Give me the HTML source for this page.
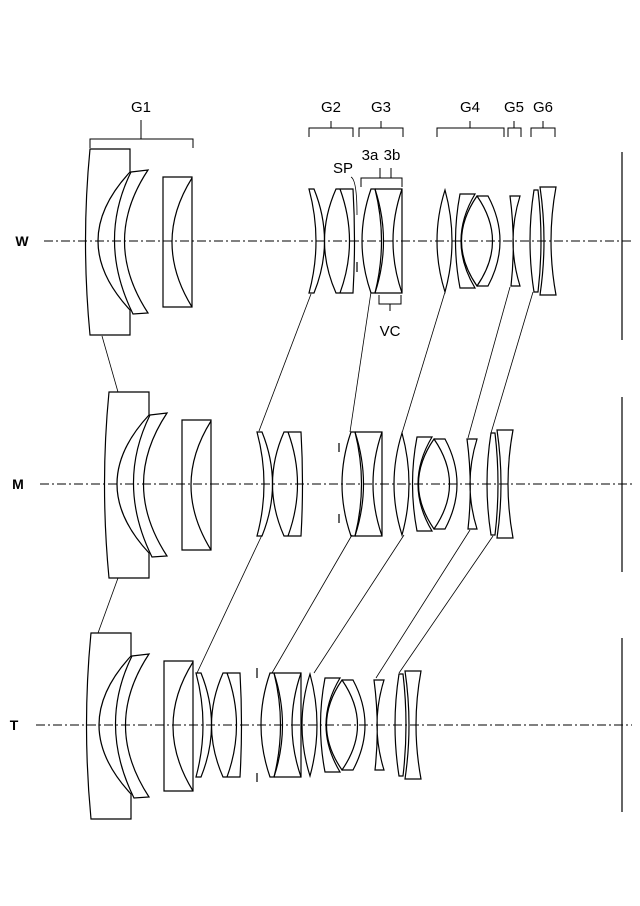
<!DOCTYPE html>
<html><head><meta charset="utf-8"><style>
html,body{margin:0;padding:0;background:#fff}
svg{display:block}
text{font-family:"Liberation Sans",sans-serif;fill:#000}
</style></head><body>
<svg width="640" height="906" viewBox="0 0 640 906" xmlns="http://www.w3.org/2000/svg">
<defs>
<g id="g1" fill="none" stroke="#000" stroke-width="1.2">
  <path d="M1,-92 L41,-92 L41,-69 Q-23,0 41,69 L41,94 L1,94 Q-8,0 1,-92 Z"/>
  <path d="M42,-69 L59,-71 Q12,0 59,72 L44,73 Q8,0 42,-69 Z"/>
  <path d="M74,-64 L103,-64 L103,66 L74,66 Z"/>
  <path d="M103,-63 Q63,1 103,66"/>
</g>
<g id="g2" fill="none" stroke="#000" stroke-width="1.2">
  <path d="M0,-52 L5,-52 Q26,0 5,52 L0,52 Q14,0 0,-52 Z"/>
  <path d="M27,-52 L44,-52 Q47,0 44,52 L27,52 Q4,0 27,-52 Z"/>
  <path d="M31,-52 Q50,0 31,52"/>
</g>
<g id="g3" fill="none" stroke="#000" stroke-width="1.2">
  <path d="M9,-52 Q-9,0 9,52 L13,52 Q26,0 13,-52 Z"/>
  <path d="M13,-52 L40,-52 L40,52 L13,52"/>
  <path d="M13,-52 Q30,0 13,52"/>
  <path d="M40,-52 Q22,0 40,52"/>
</g>
<g id="g4" fill="none" stroke="#000" stroke-width="1.2">
  <path d="M8,-51 Q-8,0 8,51 Q22,0 8,-51 Z"/>
  <path d="M23,-47 L38,-47 Q10,0 38,47 L23,47 Q14,0 23,-47 Z"/>
  <path d="M40,-45 Q9,0 40,45 Q71,0 40,-45 Z"/>
  <path d="M40,-45 L51,-45 Q75,0 51,45 L40,45"/>
</g>
<g id="g5" fill="none" stroke="#000" stroke-width="1.2">
  <path d="M2,-45 L12,-45 Q-2,0 12,45 L3,45 Q8,0 2,-45 Z"/>
</g>
<g id="g6" fill="none" stroke="#000" stroke-width="1.2">
  <path d="M4,-51 L8,-51 Q14,0 8,51 L4,51 Q-4,0 4,-51 Z"/>
  <path d="M10,-54 L26,-54 Q16,0 26,54 L10,54 Q18,0 10,-54 Z"/>
</g>
</defs>

<!-- axes -->
<g stroke="#000" stroke-width="1" stroke-dasharray="9,3,2,3" fill="none">
  <line x1="44" y1="241" x2="632" y2="241"/>
  <line x1="40" y1="484" x2="632" y2="484"/>
  <line x1="36" y1="725" x2="632" y2="725"/>
</g>
<!-- image planes -->
<g stroke="#000" stroke-width="1.2">
  <line x1="622" y1="152" x2="622" y2="340"/>
  <line x1="622" y1="397" x2="622" y2="572"/>
  <line x1="622" y1="638" x2="622" y2="812"/>
</g>

<!-- W -->
<use href="#g1" x="89" y="241"/>
<use href="#g2" x="309" y="241"/>
<use href="#g3" x="362" y="241"/>
<use href="#g4" x="437" y="241"/>
<use href="#g5" x="508" y="241"/>
<use href="#g6" x="530" y="241"/>
<!-- M -->
<use href="#g1" x="108" y="484"/>
<use href="#g2" x="257" y="484"/>
<use href="#g3" x="342" y="484"/>
<use href="#g4" x="394" y="484"/>
<use href="#g5" x="465" y="484"/>
<use href="#g6" x="487" y="484"/>
<!-- T -->
<use href="#g1" x="90" y="725"/>
<use href="#g2" x="196" y="725"/>
<use href="#g3" x="261" y="725"/>
<use href="#g4" x="302" y="725"/>
<use href="#g5" x="372" y="725"/>
<use href="#g6" x="395" y="725"/>

<!-- stops -->
<g stroke="#000" stroke-width="1.2">
  <line x1="357" y1="262" x2="357" y2="272"/>
  <line x1="339" y1="443" x2="339" y2="452"/>
  <line x1="339" y1="514" x2="339" y2="523"/>
  <line x1="257" y1="668" x2="257" y2="678"/>
  <line x1="257" y1="773" x2="257" y2="782"/>
</g>

<!-- movement lines -->
<g stroke="#000" stroke-width="0.8" fill="none">
  <line x1="102" y1="336" x2="118" y2="392"/>
  <line x1="118" y1="578" x2="98" y2="633"/>
  <line x1="311" y1="294" x2="259" y2="431"/>
  <line x1="262" y1="535" x2="197" y2="673"/>
  <line x1="371" y1="292" x2="350" y2="432"/>
  <line x1="352" y1="535" x2="272" y2="673"/>
  <line x1="445" y1="292" x2="402" y2="433"/>
  <line x1="404" y1="535" x2="314" y2="673"/>
  <line x1="510" y1="287" x2="468" y2="438"/>
  <line x1="470" y1="530" x2="376" y2="678"/>
  <line x1="533" y1="292" x2="491" y2="433"/>
  <line x1="493" y1="536" x2="399" y2="673"/>
  <path d="M351,177 Q357,180 357,215"/>
</g>

<!-- brackets -->
<g stroke="#000" stroke-width="1" fill="none">
  <path d="M90,148 L90,139 L193,139 L193,148 M141,139 L141,120"/>
  <path d="M309,137 L309,128 L353,128 L353,137 M331,128 L331,121"/>
  <path d="M359,137 L359,128 L403,128 L403,137 M381,128 L381,121"/>
  <path d="M437,137 L437,128 L504,128 L504,137 M470,128 L470,121"/>
  <path d="M508,137 L508,128 L521,128 L521,137 M514,128 L514,121"/>
  <path d="M531,137 L531,128 L555,128 L555,137 M543,128 L543,121"/>
  <path d="M361,187 L361,178 L402,178 L402,187 M380,178 L380,168 M391,178 L391,168"/>
  <path d="M379,295 L379,304 L401,304 L401,295 M390,304 L390,311"/>
</g>

<!-- labels -->
<g font-size="15" text-anchor="middle">
  <text x="141" y="112">G1</text>
  <text x="331" y="112">G2</text>
  <text x="381" y="112">G3</text>
  <text x="470" y="112">G4</text>
  <text x="514" y="112">G5</text>
  <text x="543" y="112">G6</text>
  <text x="343" y="173">SP</text>
  <text x="370" y="160">3a</text>
  <text x="392" y="160">3b</text>
  <text x="390" y="336">VC</text>
</g>
<g font-size="14" font-weight="bold" text-anchor="middle">
  <text x="22" y="246">W</text>
  <text x="18" y="489">M</text>
  <text x="14" y="730">T</text>
</g>
</svg>
</body></html>
